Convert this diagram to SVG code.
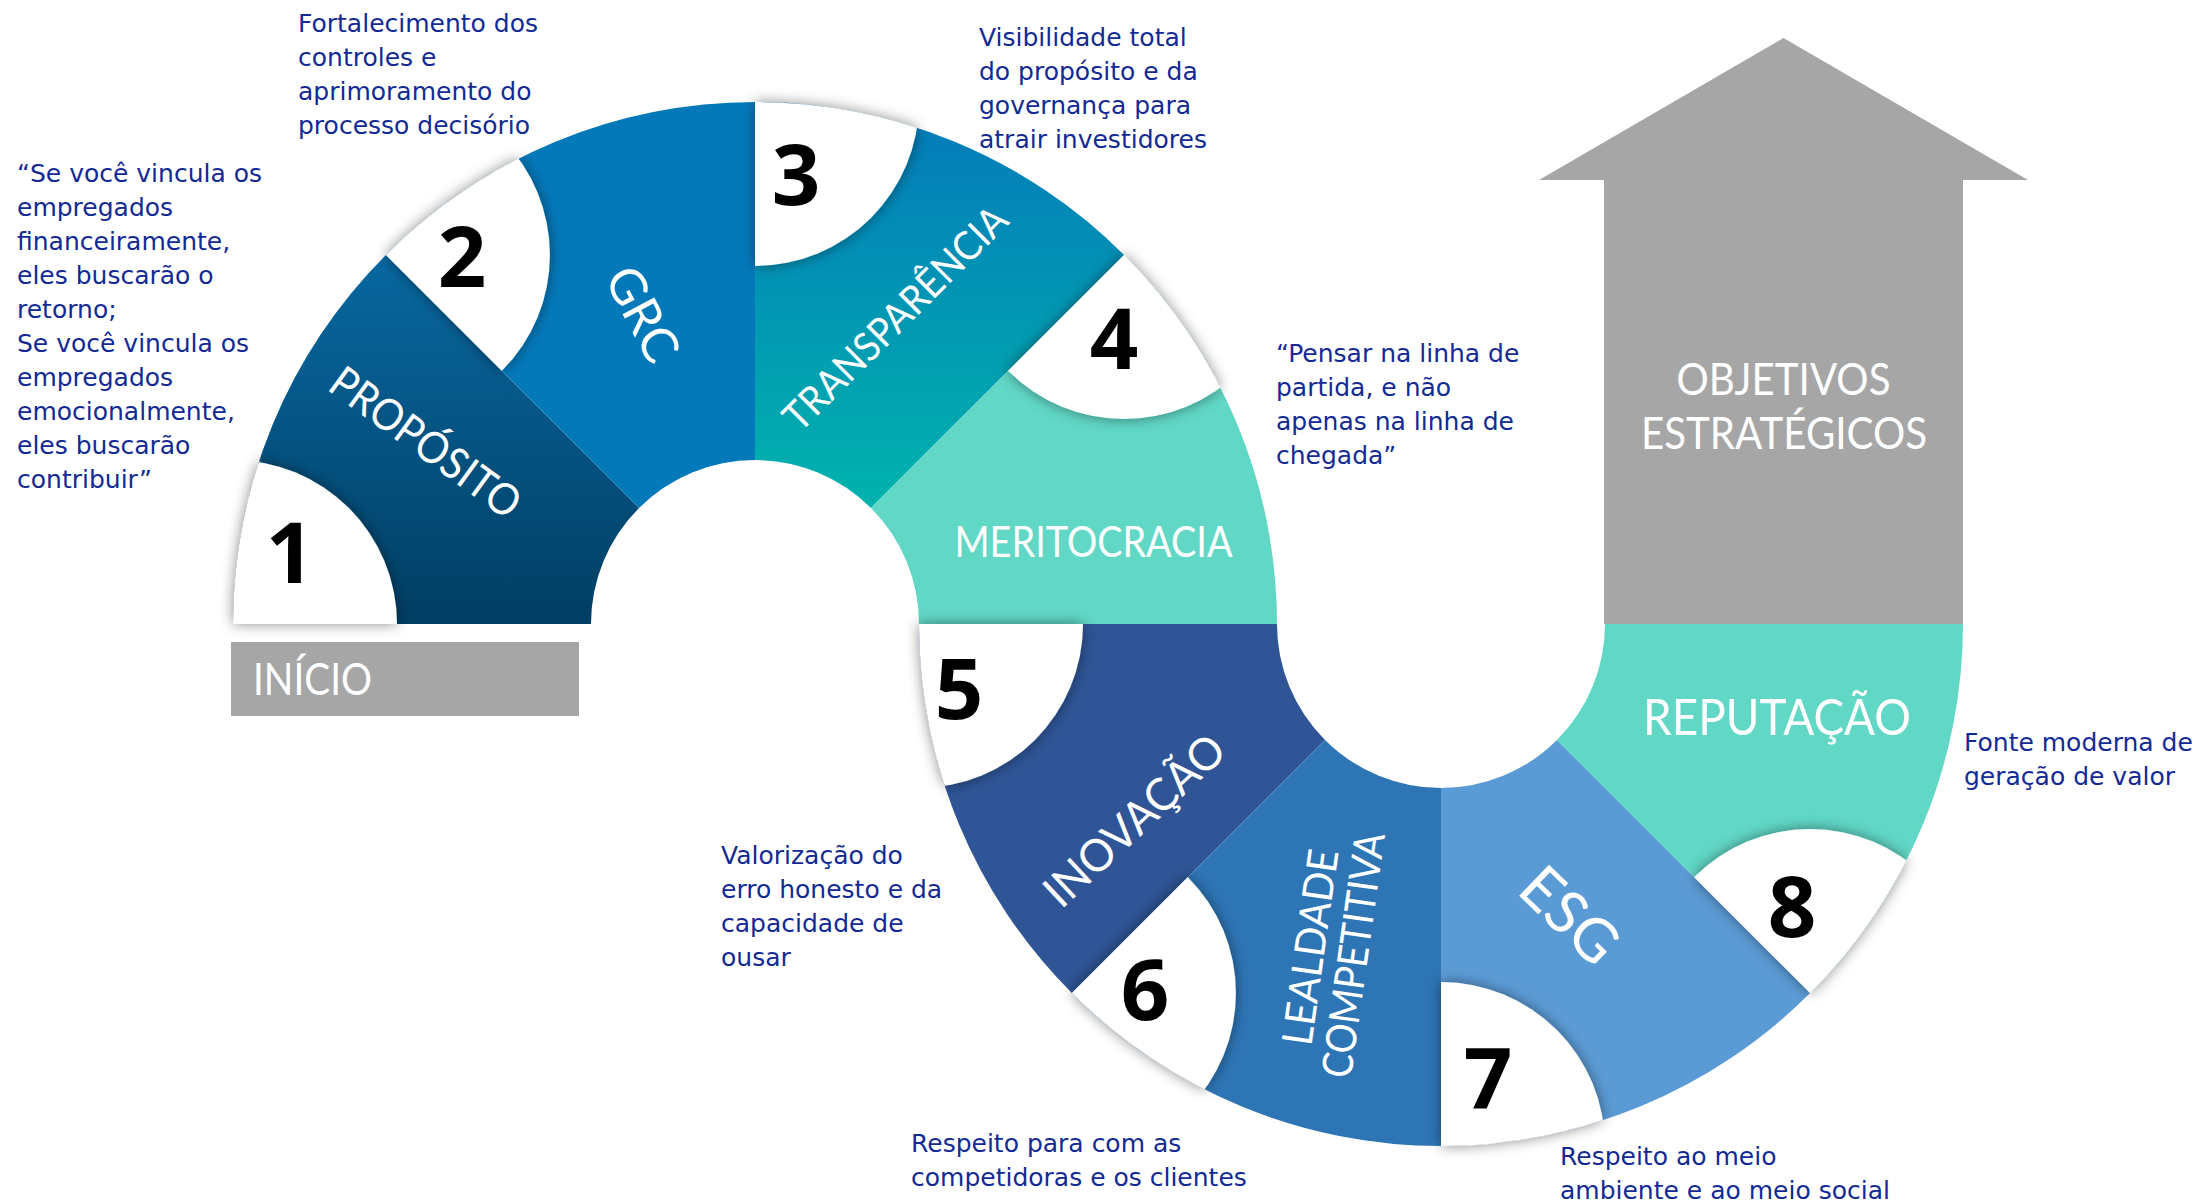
<svg xmlns="http://www.w3.org/2000/svg" width="2201" height="1203" viewBox="0 0 2201 1203">
<style>
.body{font-family:"DejaVu Sans",Verdana,sans-serif;font-size:25px;fill:#132A95}
.lbl{font-family:Lato,"Open Sans",sans-serif;fill:#fff}
.num{font-family:"Open Sans",Lato,sans-serif;font-weight:bold;font-size:85px;fill:#000;text-anchor:middle}
.white{fill:#fff}
</style>
<defs>
<linearGradient id="gProp" gradientUnits="userSpaceOnUse" x1="0" y1="255" x2="0" y2="624">
<stop offset="0" stop-color="#0868A1"/><stop offset="1" stop-color="#013E63"/>
</linearGradient>
<linearGradient id="gTrans" gradientUnits="userSpaceOnUse" x1="0" y1="102" x2="0" y2="508">
<stop offset="0" stop-color="#0479BA"/><stop offset="1" stop-color="#00B3AD"/>
</linearGradient>
<filter id="sh" x="-25%" y="-25%" width="150%" height="150%">
<feDropShadow dx="0" dy="0" stdDeviation="7" flood-color="#000" flood-opacity="0.45"/>
</filter>
<clipPath id="cProp"><path d="M233,624 A522,522 0 0 1 385.89,254.89 L639.03,508.03 A164,164 0 0 0 591,624 Z"/></clipPath>
<clipPath id="cGrc"><path d="M385.89,254.89 A522,522 0 0 1 755,102 L755,460 A164,164 0 0 0 639.03,508.03 Z"/></clipPath>
<clipPath id="cTrans"><path d="M755,102 A522,522 0 0 1 1124.11,254.89 L870.97,508.03 A164,164 0 0 0 755,460 Z"/></clipPath>
<clipPath id="cMer"><path d="M1124.11,254.89 A522,522 0 0 1 1277,624 L919,624 A164,164 0 0 0 870.97,508.03 Z"/></clipPath>
<clipPath id="cInov"><path d="M919,624 A522,522 0 0 0 1071.89,993.11 L1325.03,739.97 A164,164 0 0 1 1277,624 Z"/></clipPath>
<clipPath id="cLeal"><path d="M1071.89,993.11 A522,522 0 0 0 1441,1146 L1441,788 A164,164 0 0 1 1325.03,739.97 Z"/></clipPath>
<clipPath id="cEsg"><path d="M1441,1146 A522,522 0 0 0 1810.11,993.11 L1556.97,739.97 A164,164 0 0 1 1441,788 Z"/></clipPath>
<clipPath id="cRep"><path d="M1810.11,993.11 A522,522 0 0 0 1963,624 L1605,624 A164,164 0 0 1 1556.97,739.97 Z"/></clipPath>
</defs>
<rect width="2201" height="1203" fill="#fff"/>

<g id="connectors"></g>

<g id="objetivos">
<polygon points="1604,624 1604,180 1539,180 1783.5,38 2028,180 1963,180 1963,624" fill="#A6A6A6"/>
<text class="lbl" font-size="45" text-anchor="middle" x="1783.5" y="395" textLength="214" lengthAdjust="spacingAndGlyphs">OBJETIVOS</text>
<text class="lbl" font-size="45" text-anchor="middle" x="1784" y="449" textLength="286" lengthAdjust="spacingAndGlyphs">ESTRATÉGICOS</text>
</g>

<g id="inicio">
<rect x="231" y="642" width="348" height="74" fill="#A6A6A6"/>
<text class="lbl" font-size="44" x="253" y="695" textLength="119" lengthAdjust="spacingAndGlyphs">INÍCIO</text>
</g>

<g id="seg-proposito">
<path d="M233,624 A522,522 0 0 1 385.89,254.89 L639.03,508.03 A164,164 0 0 0 591,624 Z" fill="url(#gProp)"/>
</g>
<g id="seg-grc">
<path d="M385.89,254.89 A522,522 0 0 1 755,102 L755,460 A164,164 0 0 0 639.03,508.03 Z" fill="#0479BA"/>
</g>
<g id="seg-transparencia">
<path d="M755,102 A522,522 0 0 1 1124.11,254.89 L870.97,508.03 A164,164 0 0 0 755,460 Z" fill="url(#gTrans)"/>
</g>
<g id="seg-meritocracia">
<path d="M1124.11,254.89 A522,522 0 0 1 1277,624 L919,624 A164,164 0 0 0 870.97,508.03 Z" fill="#61D7C6"/>
</g>
<g id="seg-inovacao">
<path d="M919,624 A522,522 0 0 0 1071.89,993.11 L1325.03,739.97 A164,164 0 0 1 1277,624 Z" fill="#2F5597"/>
</g>
<g id="seg-lealdade">
<path d="M1071.89,993.11 A522,522 0 0 0 1441,1146 L1441,788 A164,164 0 0 1 1325.03,739.97 Z" fill="#2E75B6"/>
</g>
<g id="seg-esg">
<path d="M1441,1146 A522,522 0 0 0 1810.11,993.11 L1556.97,739.97 A164,164 0 0 1 1441,788 Z" fill="#5B9BD5"/>
</g>
<g id="seg-reputacao">
<path d="M1810.11,993.11 A522,522 0 0 0 1963,624 L1605,624 A164,164 0 0 1 1556.97,739.97 Z" fill="#61D7C6"/>
</g>

<g id="step-1" filter="url(#sh)"><circle class="white" cx="233" cy="624" r="164" clip-path="url(#cProp)"/></g>
<g id="step-2" filter="url(#sh)"><circle class="white" cx="385.89" cy="254.89" r="164" clip-path="url(#cGrc)"/></g>
<g id="step-3" filter="url(#sh)"><circle class="white" cx="755" cy="102" r="164" clip-path="url(#cTrans)"/></g>
<g id="step-4" filter="url(#sh)"><circle class="white" cx="1124.11" cy="254.89" r="164" clip-path="url(#cMer)"/></g>
<g id="step-5" filter="url(#sh)"><circle class="white" cx="919" cy="624" r="164" clip-path="url(#cInov)"/></g>
<g id="step-6" filter="url(#sh)"><circle class="white" cx="1071.89" cy="993.11" r="164" clip-path="url(#cLeal)"/></g>
<g id="step-7" filter="url(#sh)"><circle class="white" cx="1441" cy="1146" r="164" clip-path="url(#cEsg)"/></g>
<g id="step-8" filter="url(#sh)"><circle class="white" cx="1810.11" cy="993.11" r="164" clip-path="url(#cRep)"/></g>

<g id="labels">
<text class="lbl" font-size="44" text-anchor="middle" transform="translate(426,442) rotate(36)" x="0" y="16" textLength="224" lengthAdjust="spacingAndGlyphs">PROPÓSITO</text>
<text class="lbl" font-size="50" text-anchor="middle" transform="translate(643,314) rotate(62)" x="0" y="18">GRC</text>
<text class="lbl" font-size="40" text-anchor="middle" transform="translate(895,318) rotate(-45)" x="0" y="14.4" textLength="298" lengthAdjust="spacingAndGlyphs">TRANSPARÊNCIA</text>
<text class="lbl" font-size="42" text-anchor="middle" x="1093.5" y="557" textLength="278" lengthAdjust="spacingAndGlyphs">MERITOCRACIA</text>
<text class="lbl" font-size="45" text-anchor="middle" transform="translate(1134,820) rotate(-43)" x="0" y="16.2" textLength="229" lengthAdjust="spacingAndGlyphs">INOVAÇÃO</text>
<text class="lbl" font-size="42" text-anchor="middle" transform="translate(1310,947) rotate(-82)" x="0" y="15" textLength="197" lengthAdjust="spacingAndGlyphs">LEALDADE</text>
<text class="lbl" font-size="42" text-anchor="middle" transform="translate(1353,955) rotate(-82)" x="0" y="15" textLength="247" lengthAdjust="spacingAndGlyphs">COMPETITIVA</text>
<text class="lbl" font-size="60" text-anchor="middle" transform="translate(1570,915) rotate(44)" x="0" y="21.5">ESG</text>
<text class="lbl" font-size="51" text-anchor="middle" x="1777" y="735" textLength="268" lengthAdjust="spacingAndGlyphs">REPUTAÇÃO</text>
</g>

<g id="numbers">
<text class="num" x="290" y="583">1</text>
<text class="num" x="462" y="287">2</text>
<text class="num" x="796" y="205">3</text>
<text class="num" x="1114" y="369">4</text>
<text class="num" x="959" y="719">5</text>
<text class="num" x="1145" y="1020">6</text>
<text class="num" x="1488" y="1109">7</text>
<text class="num" x="1792" y="937">8</text>
</g>

<g id="note-proposito" class="body">
<text x="17" y="182">“Se você vincula os</text>
<text x="17" y="216">empregados</text>
<text x="17" y="250">financeiramente,</text>
<text x="17" y="284">eles buscarão o</text>
<text x="17" y="318">retorno;</text>
<text x="17" y="352">Se você vincula os</text>
<text x="17" y="386">empregados</text>
<text x="17" y="420">emocionalmente,</text>
<text x="17" y="454">eles buscarão</text>
<text x="17" y="488">contribuir”</text>
</g>
<g id="note-grc" class="body">
<text x="298" y="32">Fortalecimento dos</text>
<text x="298" y="66">controles e</text>
<text x="298" y="100">aprimoramento do</text>
<text x="298" y="134">processo decisório</text>
</g>
<g id="note-transparencia" class="body">
<text x="979" y="46">Visibilidade total</text>
<text x="979" y="80">do propósito e da</text>
<text x="979" y="114">governança para</text>
<text x="979" y="148">atrair investidores</text>
</g>
<g id="note-meritocracia" class="body">
<text x="1276" y="362">“Pensar na linha de</text>
<text x="1276" y="396">partida, e não</text>
<text x="1276" y="430">apenas na linha de</text>
<text x="1276" y="464">chegada”</text>
</g>
<g id="note-inovacao" class="body">
<text x="721" y="864">Valorização do</text>
<text x="721" y="898">erro honesto e da</text>
<text x="721" y="932">capacidade de</text>
<text x="721" y="966">ousar</text>
</g>
<g id="note-lealdade" class="body">
<text x="911" y="1152">Respeito para com as</text>
<text x="911" y="1186">competidoras e os clientes</text>
</g>
<g id="note-esg" class="body">
<text x="1560" y="1165">Respeito ao meio</text>
<text x="1560" y="1199">ambiente e ao meio social</text>
</g>
<g id="note-reputacao" class="body">
<text x="1964" y="751">Fonte moderna de</text>
<text x="1964" y="785">geração de valor</text>
</g>
</svg>
